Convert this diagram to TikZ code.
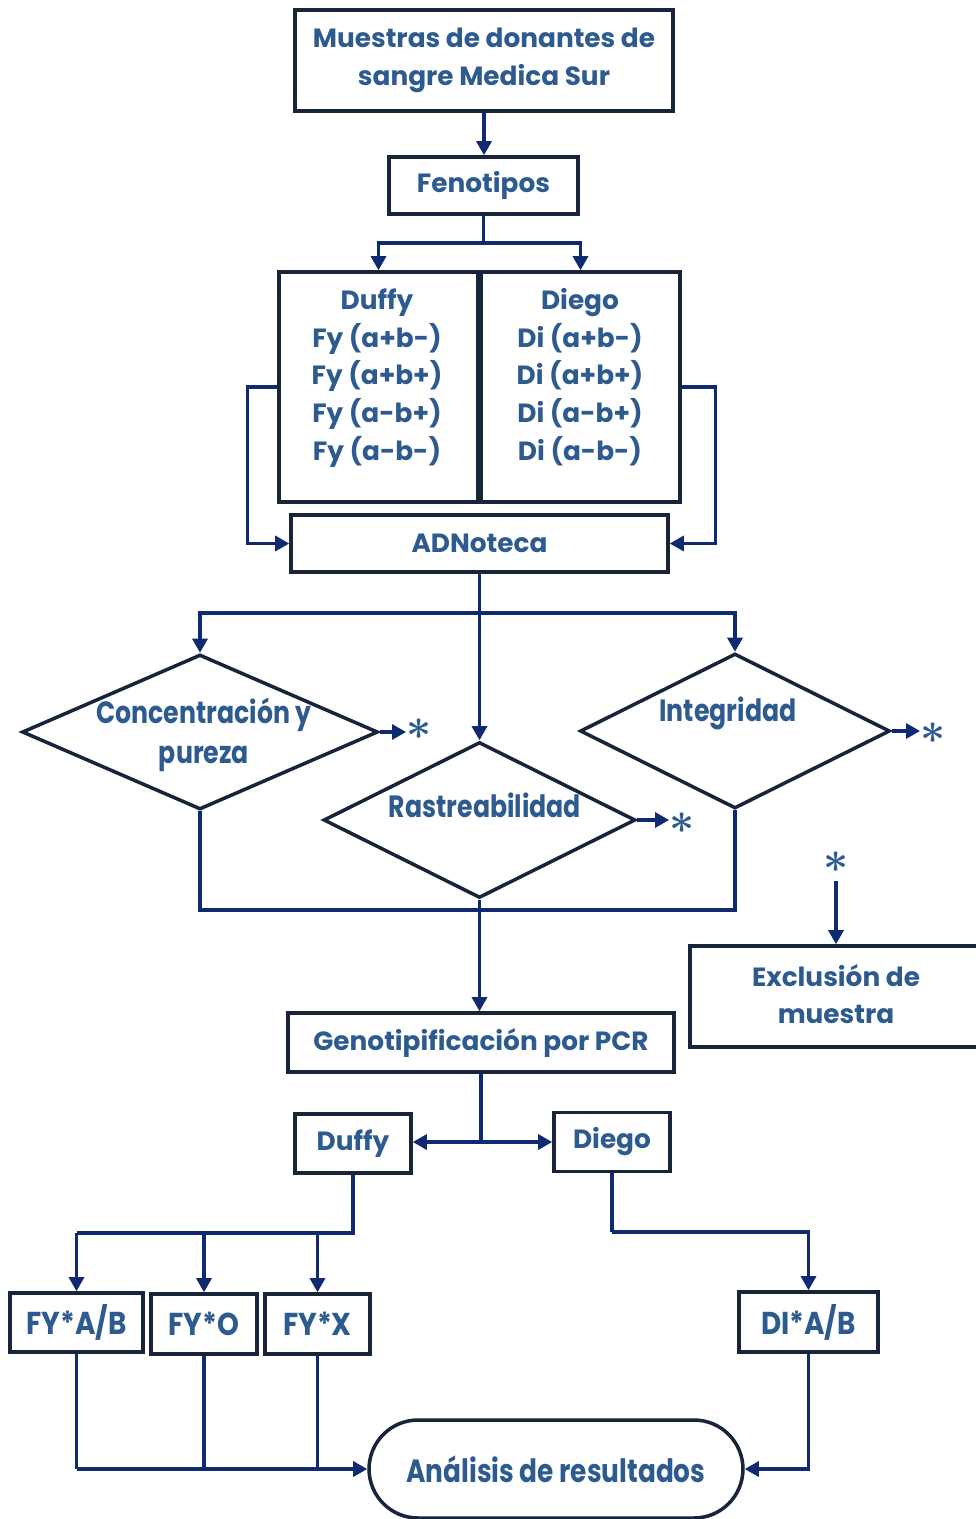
\documentclass[tikz,border=0pt]{standalone}
\usepackage{fontspec}
\setmainfont{Poppins}
\newfontfamily\narrowfont{Poppins}[FakeStretch=0.82]
\newfontfamily\tagfont{Poppins}[FakeStretch=0.88]
\usetikzlibrary{arrows.meta,shapes.geometric,shapes.misc}
\definecolor{boxline}{HTML}{17243A}
\definecolor{txt}{HTML}{2E5B8F}
\definecolor{wire}{HTML}{0F2A70}
\tikzset{
  box/.style={draw=boxline, line width=2pt, fill=white, text=txt, inner sep=0pt,
    align=center, font=\bfseries\fontsize{15}{21.5}\selectfont},
  label/.style={text=txt, inner sep=0pt, align=center,
    font=\bfseries\fontsize{15}{21.5}\selectfont},
  nlabel/.style={text=txt, inner sep=0pt, align=center,
    font=\narrowfont\bfseries\fontsize{17.5}{22.5}\selectfont},
  tag/.style={box, font=\tagfont\bfseries\fontsize{18}{20}\selectfont},
  decision/.style={diamond, draw=boxline, line width=2pt, fill=white, inner sep=0pt},
  starmark/.style={text=txt, inner sep=0pt, font=\boldmath\fontsize{24}{24}\selectfont},
  link/.style={draw=wire, line width=1.9pt},
  flow/.style={link, -{Triangle[length=8pt,width=8.5pt]}}
}
\begin{document}
\begin{tikzpicture}[x=0.02cm,y=-0.02cm]
\clip (0,0) rectangle (976,1519);
\fill[white] (0,0) rectangle (976,1519);

% --- top part
\node[box, minimum width=7.56cm, minimum height=2.02cm] (src) at (484,60.5)
  {Muestras de donantes de\\sangre Medica Sur};
\node[box, minimum width=3.78cm, minimum height=1.14cm] (fen) at (483.5,185.5) {Fenotipos};

\node[box, minimum width=3.98cm, minimum height=4.6cm] (duffyA) at (378.5,387) {};
\node[box, minimum width=3.98cm, minimum height=4.6cm] (diegoA) at (580.5,387) {};
\node[label] (duffyT) at (377,378)
  {Duffy\\Fy (a+b-)\\Fy (a+b+)\\Fy (a-b+)\\Fy (a-b-)};
\node[label] (diegoT) at (580,377)
  {Diego\\Di (a+b-)\\Di (a+b+)\\Di (a-b+)\\Di (a-b-)};

\node[box, minimum width=7.54cm, minimum height=1.14cm] (adn) at (479.5,543.5) {ADNoteca};

% --- quality checks
\node[decision, minimum width=7.12cm, minimum height=3.1cm] (conc) at (200,732) {};
\node[decision, minimum width=6.2cm, minimum height=3.1cm] (integ) at (735,731) {};
\node[decision, minimum width=6.24cm, minimum height=3.12cm] (rast) at (479.5,820) {};
\node[nlabel] (concT) at (204,735) {Concentración y\\pureza};
\node[nlabel] (integT) at (728,713) {Integridad};
\node[nlabel] (rastT) at (485,805) {Rastreabilidad};

\node[starmark] (s1) at (419,729) {$\ast$};
\node[starmark] (s2) at (682,823) {$\ast$};
\node[starmark] (s3) at (933,733) {$\ast$};
\node[starmark] (s4) at (836,862) {$\ast$};

\node[box, minimum width=6cm, minimum height=2.02cm] (excl) at (840,996.5) {};
\node[label] (exclT) at (836,994) {Exclusión de\\muestra};

% --- genotyping
\node[box, minimum width=7.72cm, minimum height=1.18cm] (geno) at (481,1042.5)
  {Genotipificación por PCR};
\node[box, minimum width=2.32cm, minimum height=1.18cm] (duffyB) at (353,1143.5) {Duffy};
\node[box, minimum width=2.32cm, minimum height=1.18cm] (diegoB) at (612,1142) {Diego};

\node[tag, minimum width=2.66cm, minimum height=1.18cm] (fyab) at (76.5,1322.5) {FY*A/B};
\node[tag, minimum width=2.12cm, minimum height=1.2cm] (fyo) at (204,1324) {FY*O};
\node[tag, minimum width=2.1cm, minimum height=1.2cm] (fyx) at (317.5,1324) {FY*X};
\node[tag, minimum width=2.78cm, minimum height=1.2cm] (diab) at (808.5,1322) {DI*A/B};

\node[rounded rectangle, draw=boxline, line width=2pt, fill=white, text=txt,
  minimum width=7.48cm, minimum height=1.96cm, inner sep=0pt,
  font=\narrowfont\bfseries\fontsize{18.3}{22}\selectfont] (anal) at (556,1469)
  {Análisis de resultados};

% --- connectors
\coordinate (fsplit) at (483.5,243);
\coordinate (asplit) at (479.5,613);
\coordinate (mL) at (200,910);
\coordinate (mR) at (735,910);
\coordinate (gsplit) at (481,1142);
\coordinate (dsplit) at (353,1233);
\coordinate (fysplit) at (76.5,1233);
\coordinate (dgbend) at (612,1232);
\coordinate (aL) at (76.5,1469);

\draw[flow] (src.south) -- (src.south |- fen.north);
\draw[link] (fen.south) -- (fsplit);
\draw[flow] (fsplit) -| (duffyA.north);
\draw[flow] (fsplit) -| (diegoA.north);
\draw[flow] (duffyA.west) -- ++(-30,0) |- (adn.west);
\draw[flow] (diegoA.east) -- ++(34,0) |- (adn.east);

\draw[flow] (adn.south) -- (rast.north);
\draw[flow] (asplit) -| (conc.north);
\draw[flow] (asplit) -| (integ.north);

\draw[flow] (conc.east) -- (conc.east -| s1.west);
\draw[flow] (rast.east) -- (rast.east -| s2.west);
\draw[flow] (integ.east) -- (integ.east -| s3.west);
\draw[flow] (s4.south) ++(0,8) -- (s4.south |- excl.north);

\draw[link] (conc.south) -- (mL) -- (mR) -- (integ.south);
\draw[flow] (rast.south) -- (rast.south |- geno.north);

\draw[link] (geno.south) -- (gsplit);
\draw[flow] (gsplit) -- (gsplit -| duffyB.east);
\draw[flow] (gsplit) -- (gsplit -| diegoB.west);

\draw[link] (duffyB.south) -- (dsplit) -- (fysplit);
\draw[flow] (fysplit) -- (fyab.north);
\draw[flow] (dsplit -| fyo.north) -- (fyo.north);
\draw[flow] (dsplit -| fyx.north) -- (fyx.north);
\draw[link] (diegoB.south) -- (dgbend);
\draw[flow] (dgbend) -| (diab.north);

\draw[link] (fyab.south) -- (aL);
\draw[flow] (aL) -- (anal.west);
\draw[link] (fyo.south) -- (fyo.south |- aL);
\draw[link] (fyx.south) -- (fyx.south |- aL);
\draw[flow] (diab.south) |- (anal.east);
\end{tikzpicture}
\end{document}
